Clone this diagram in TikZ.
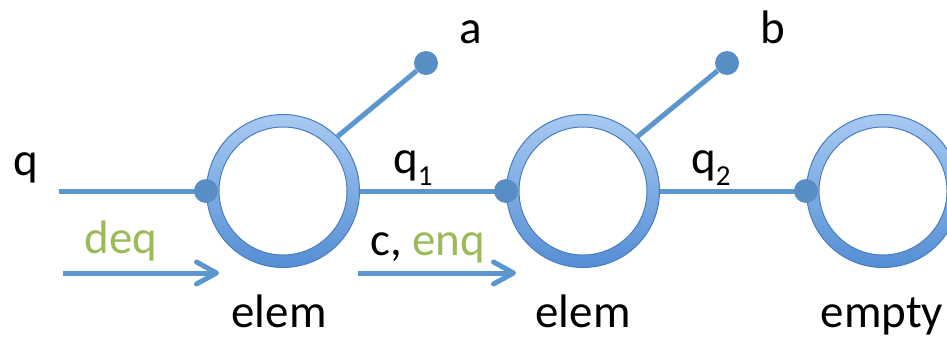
\documentclass[tikz,border=0pt]{standalone}
\usepackage{fontspec}
\setmainfont{Carlito}
\usetikzlibrary{arrows.meta}
\definecolor{ringtop}{RGB}{168,202,242}
\definecolor{ringbot}{RGB}{84,142,212}
\definecolor{ringline}{RGB}{72,124,188}
\definecolor{linkc}{RGB}{92,150,207}
\definecolor{dotc}{RGB}{88,141,198}
\definecolor{greentext}{RGB}{155,187,89}
\tikzset{
  ringout/.style={circle, minimum size=153pt, inner sep=0pt, draw=ringline, line width=1pt, top color=ringtop, bottom color=ringbot},
  ringin/.style={circle, minimum size=128pt, inner sep=0pt, draw=ringline, line width=1pt, fill=white},
  dotnode/.style={circle, minimum size=24pt, inner sep=0pt, fill=dotc},
  link/.style={draw=linkc, line width=5pt},
  flow/.style={draw=linkc, line width=5pt, -{Straight Barb[length=20pt,width=22pt,round]}},
  lbl/.style={inner sep=0pt, font=\fontsize{47}{56}\selectfont},
}
\newcommand{\subsc}[1]{\raisebox{-12pt}{\fontsize{29}{34}\selectfont #1}}
\begin{document}
\begin{tikzpicture}[x=1pt,y=-1pt]
\useasboundingbox (0,0) rectangle (947,338);
\clip (0,0) rectangle (947,338);
% rings
\node[ringout] (r1) at (283,191) {};
\node[ringin]  (r1i) at (283,191) {};
\node[ringout] (r2) at (583,191) {};
\node[ringin]  (r2i) at (583,191) {};
\node[ringout] (r3) at (883,191) {};
\node[ringin]  (r3i) at (883,191) {};
% free ends
\coordinate (qstart) at (59,191);
\node[dotnode] (da) at (426,63) {};
\node[dotnode] (db) at (727,63) {};
% links
\draw[link] (qstart) -- (r1.west);
\draw[link] (r1.east) -- (r2.west);
\draw[link] (r2.east) -- (r3.west);
\draw[link] (r1.45) -- (da);
\draw[link] (r2.45) -- (db);
% dots on rings
\node[dotnode] (d1) at (r1.west) {};
\node[dotnode] (d2) at (r2.west) {};
\node[dotnode] (d3) at (r3.west) {};
% flow arrows
\coordinate (f1s) at (63,273);
\coordinate (f1e) at (219,273);
\coordinate (f2s) at (358,273);
\coordinate (f2e) at (516,273);
\draw[flow] (f1s) -- (f1e);
\draw[flow] (f2s) -- (f2e);
% labels
\node[lbl, anchor=base west] (lq) at (13,175) {q};
\node[lbl, anchor=base, text=greentext] (ldeq) at (121,253) {deq};
\node[lbl, anchor=base west] (lq1) at (393,173) {q\subsc{1}};
\node[lbl, anchor=base west] (lenq) at (370,255) {c, \textcolor{greentext}{enq}};
\node[lbl, anchor=base west] (lq2) at (691,173) {q\subsc{2}};
\node[lbl, anchor=base] (la) at (471,43) {a};
\node[lbl, anchor=base] (lb) at (773,43) {b};
\node[lbl, anchor=base] (le1) at (279,327) {elem};
\node[lbl, anchor=base] (le2) at (583,327) {elem};
\node[lbl, anchor=base] (le3) at (882,327) {empty};
\end{tikzpicture}
\end{document}
